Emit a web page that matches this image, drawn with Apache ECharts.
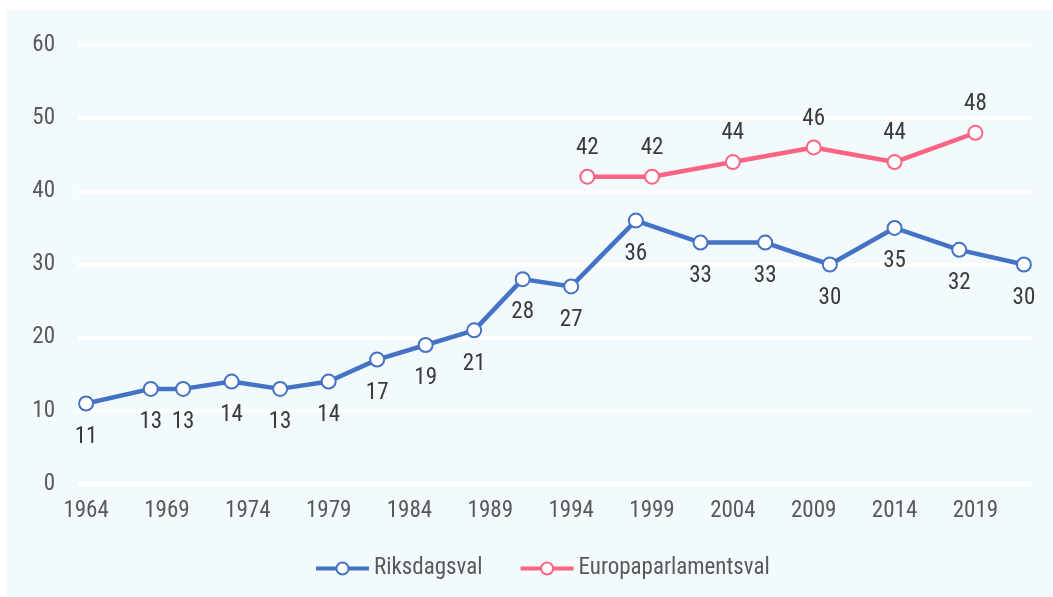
<!DOCTYPE html>
<html>
<head>
<meta charset="utf-8">
<script src="https://cdn.jsdelivr.net/npm/echarts@6/dist/echarts.min.js"></script>
<style>
html,body{margin:0;padding:0;background:#ffffff;}
#wrap{position:absolute;left:7px;top:10px;width:1046px;height:587px;background:#f2fafe;}
#c{position:absolute;left:0;top:0;width:1053px;height:597px;}
</style>
</head>
<body>
<div id="wrap"></div>
<div id="c"></div>
<script>
// Categories: every year from 1964 to 2022
var firstYear = 1964, lastYear = 2022;
var years = [];
for (var y = firstYear; y <= lastYear; y++) years.push(String(y));

var riksYears = ['1964','1968','1970','1973','1976','1979','1982','1985','1988','1991','1994','1998','2002','2006','2010','2014','2018','2022'];
var riksValues = [11,13,13,14,13,14,17,19,21,28,27,36,33,33,30,35,32,30];

var euYears = ['1995','1999','2004','2009','2014','2019'];
var euValues = [42,42,44,46,44,48];

var seriesNames = ['Riksdagsval','Europaparlamentsval'];
var yTicks = {min:0, max:60, interval:10};

var FONT = '"Roboto Condensed", "DejaVu Sans Condensed", sans-serif';
var BLUE = '#4472c4', PINK = '#fb6581';

function pairs(xs, vs){ return xs.map(function(x,i){ return [x, vs[i]]; }); }

var chart = echarts.init(document.getElementById('c'), null, {renderer:'canvas'});
chart.setOption({
  backgroundColor: 'transparent',
  animation: false,
  textStyle: {fontFamily: FONT},
  grid: {left:78, right:21, top:45, bottom:113, containLabel:false},
  legend: {
    data: seriesNames,
    left: 309,
    top: 552,
    itemWidth: 53,
    itemHeight: 15,
    itemGap: 36,
    lineStyle: {width: 4},
    itemStyle: {borderWidth: 2},
    textStyle: {fontFamily: FONT, fontSize: 23, color: '#595959', padding:[0,0,0,0]}
  },
  xAxis: {
    type: 'category',
    data: years,
    boundaryGap: true,
    axisLine: {show:false},
    axisTick: {show:false},
    splitLine: {show:false},
    axisLabel: {
      interval: 4,
      margin: 16,
      fontFamily: FONT, fontSize: 23, color: '#595959'
    }
  },
  yAxis: {
    type: 'value',
    min: yTicks.min, max: yTicks.max, interval: yTicks.interval,
    axisLine: {show:false},
    axisTick: {show:false},
    splitLine: {show:true, lineStyle:{color:'#ffffff', width:4}},
    axisLabel: {margin: 23, fontFamily: FONT, fontSize: 23, color: '#595959'}
  },
  series: [
    {
      name: seriesNames[0],
      type: 'line',
      data: pairs(riksYears, riksValues),
      showAllSymbol: true,
      symbol: 'circle',
      symbolSize: 14,
      lineStyle: {color: BLUE, width: 4.5},
      itemStyle: {color: '#ffffff', borderColor: BLUE, borderWidth: 2},
      label: {show:true, position:'bottom', distance: 14, fontFamily: FONT, fontSize: 23, color:'#3a3a3a',
        formatter: function(p){ return p.value[1]; }},
      labelLayout: {hideOverlap: false},
      z: 3
    },
    {
      name: seriesNames[1],
      type: 'line',
      data: pairs(euYears, euValues),
      showAllSymbol: true,
      symbol: 'circle',
      symbolSize: 14,
      lineStyle: {color: PINK, width: 4.5},
      itemStyle: {color: '#ffffff', borderColor: PINK, borderWidth: 2},
      label: {show:true, position:'top', distance: 9, fontFamily: FONT, fontSize: 23, color:'#3a3a3a',
        formatter: function(p){ return p.value[1]; }},
      labelLayout: {hideOverlap: false},
      z: 3
    }
  ]
});
</script>
</body>
</html>
